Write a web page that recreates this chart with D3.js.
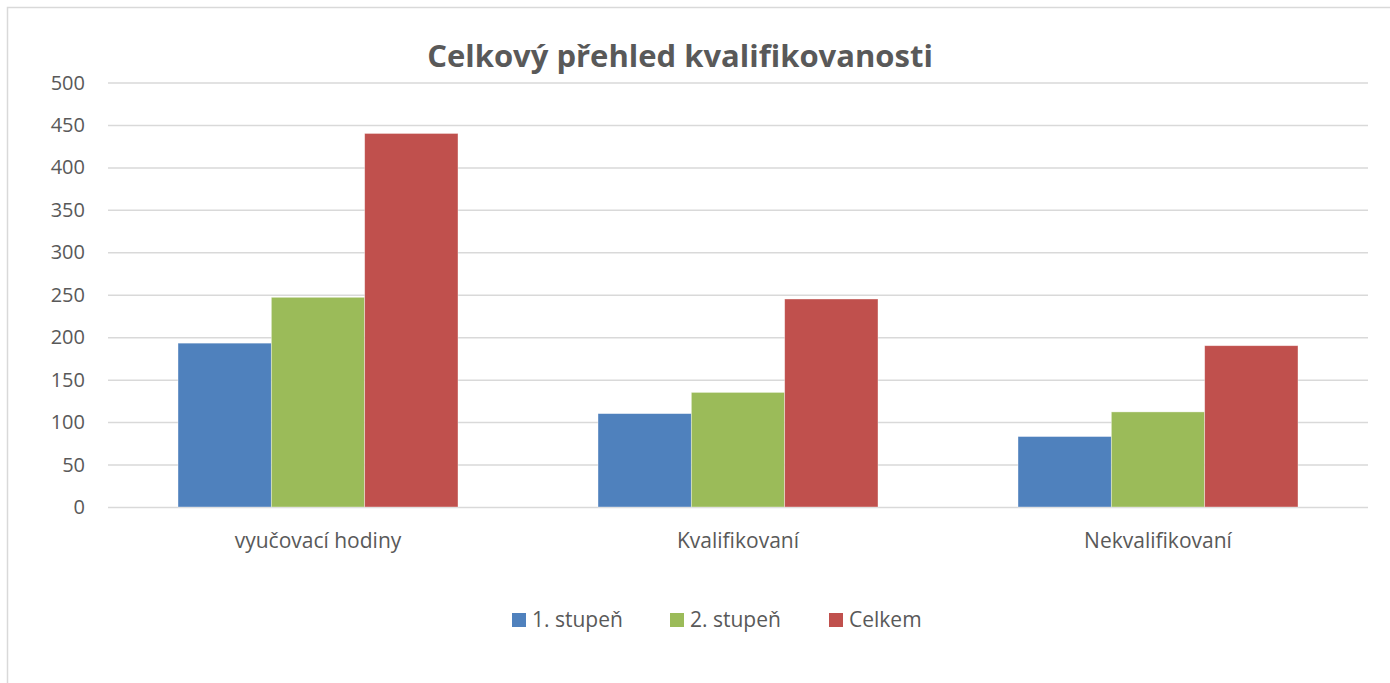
<!DOCTYPE html>
<html>
<head>
<meta charset="utf-8">
<title>Celkový přehled kvalifikovanosti</title>
<script src="https://cdnjs.cloudflare.com/ajax/libs/d3/7.8.5/d3.min.js"></script>
<style>
body { margin: 0; background: #fff; }
svg text { font-family: "Open Sans", "Liberation Sans", sans-serif; fill: #595959; }
.grid line { stroke: #d9d9d9; stroke-width: 1.5; }
.grid path { display: none; }
</style>
</head>
<body>
<div class="target"></div>
<script>
var categories = ["vyučovací hodiny", "Kvalifikovaní", "Nekvalifikovaní"];
var seriesNames = ["1. stupeň", "2. stupeň", "Celkem"];
var stupen1 = [193, 110, 83];
var stupen2 = [247, 135, 112];
var celkem = [440, 245, 190];
var yTicks = [0, 50, 100, 150, 200, 250, 300, 350, 400, 450, 500];
var colors = ["#4F81BD", "#9BBB59", "#C0504D"];

var W = 1390, H = 683;
var margin = {top: 82.5, right: 22, bottom: 176, left: 108};

var svg = d3.select(".target").append("svg")
  .attr("width", W).attr("height", H);

// chart frame
svg.append("rect")
  .attr("x", 7.5).attr("y", 7.5)
  .attr("width", W).attr("height", H)
  .attr("fill", "none").attr("stroke", "#d9d9d9").attr("stroke-width", 1.5);

var x0 = d3.scaleBand().domain(categories)
  .range([margin.left, W - margin.right]).paddingInner(0).paddingOuter(0);
var x1 = d3.scaleBand().domain(seriesNames)
  .range([0, x0.bandwidth()]).paddingOuter(0.75).paddingInner(0);
var y = d3.scaleLinear().domain([0, 500]).range([H - margin.bottom, margin.top]);

// gridlines
svg.append("g").attr("class", "grid")
  .attr("transform", "translate(" + margin.left + ",0)")
  .call(d3.axisLeft(y).tickValues(yTicks).tickSize(-(W - margin.left - margin.right)).tickFormat(""));

// y labels
svg.append("g").selectAll("text").data(yTicks).enter().append("text")
  .attr("x", 85).attr("y", function(d) { return y(d); })
  .attr("dy", "0.35em").attr("text-anchor", "end")
  .style("font-size", "20px")
  .text(function(d) { return d; });

var data = categories.map(function(c, i) {
  return {cat: c, values: [stupen1[i], stupen2[i], celkem[i]]};
});

var groups = svg.append("g").selectAll("g").data(data).enter().append("g")
  .attr("transform", function(d) { return "translate(" + x0(d.cat) + ",0)"; });

groups.selectAll("rect").data(function(d) { return d.values; }).enter().append("rect")
  .attr("x", function(d, i) { return x1(seriesNames[i]); })
  .attr("width", x1.bandwidth())
  .attr("y", function(d) { return y(d); })
  .attr("height", function(d) { return y(0) - y(d); })
  .attr("fill", function(d, i) { return colors[i]; })
  .attr("stroke", "#ffffff").attr("stroke-opacity", 0.5).attr("stroke-width", 0.75);

// category labels
svg.append("g").selectAll("text").data(categories).enter().append("text")
  .attr("x", function(d) { return x0(d) + x0.bandwidth() / 2; })
  .attr("y", 548).attr("text-anchor", "middle")
  .style("font-size", "21px")
  .text(function(d) { return d; });

// title
svg.append("text")
  .attr("x", 680).attr("y", 67).attr("text-anchor", "middle")
  .style("font-size", "31px").style("font-weight", "bold")
  .text("Celkový přehled kvalifikovanosti");

// legend
var legendX = [512, 670, 829];
var legend = svg.append("g").selectAll("g").data(seriesNames).enter().append("g")
  .attr("transform", function(d, i) { return "translate(" + legendX[i] + ",613)"; });
legend.append("rect")
  .attr("width", 14).attr("height", 14)
  .attr("fill", function(d, i) { return colors[i]; });
legend.append("text")
  .attr("x", 20).attr("y", 7).attr("dy", "0.35em")
  .style("font-size", "21px")
  .text(function(d) { return d; });
</script>
</body>
</html>
